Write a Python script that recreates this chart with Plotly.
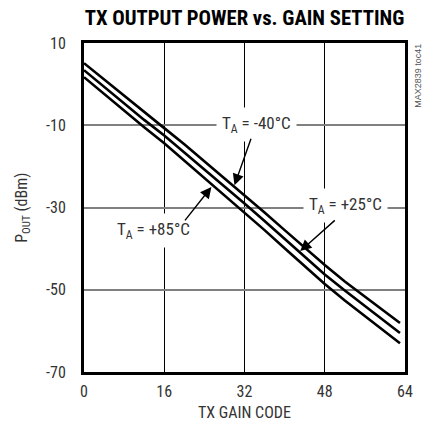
import plotly.graph_objects as go

# TX gain code sample points
gain_code = [0, 4, 8, 12, 16, 20, 24, 28, 32, 36, 40, 44, 48, 52, 56, 60, 63]

# Output power (dBm) at three ambient temperatures
pout_m40 = [5.1, 1.1, -2.8, -6.8, -10.7, -14.6, -18.7, -22.8, -26.9, -31.2, -35.5, -39.8, -44.0, -48.0, -51.6, -55.4, -58.1]
pout_p25 = [3.4, -0.7, -4.6, -8.7, -12.5, -16.6, -20.6, -24.8, -29.0, -33.3, -37.7, -42.0, -46.3, -50.2, -54.0, -57.7, -60.5]
pout_p85 = [1.7, -2.4, -6.4, -10.5, -14.4, -18.6, -22.7, -26.9, -31.1, -35.5, -39.9, -44.3, -48.6, -52.6, -56.4, -60.2, -63.0]

x_ticks = [0, 16, 32, 48, 64]
y_ticks = [10, -10, -30, -50, -70]

FONT = "Roboto Condensed, Liberation Sans Narrow, Arial Narrow, sans-serif"
TEXT_COLOR = "#333333"

fig = go.Figure()
for name, series in [("-40", pout_m40), ("+25", pout_p25), ("+85", pout_p85)]:
    fig.add_trace(go.Scatter(
        x=gain_code, y=series, mode="lines", name=name,
        line=dict(color="black", width=2.6), showlegend=False,
        hoverinfo="skip",
    ))

# Temperature labels (white boxes sit over the grid) and their pointer arrows
labels = [
    ("T<sub>A</sub> = -40°C", 34.3, -9.7),
    ("T<sub>A</sub> = +25°C", 52.1, -29.4),
    ("T<sub>A</sub> = +85°C", 13.9, -35.5),
]
for text, lx, ly in labels:
    fig.add_annotation(
        x=lx, y=ly, xref="x", yref="y", text=text, showarrow=False,
        bgcolor="white", borderpad=5,
        font=dict(family=FONT, size=17, color=TEXT_COLOR),
    )

arrows = [
    # (head x, head y, tail x, tail y)
    (30.0, -24.6, 33.4, -12.9),
    (43.1, -40.6, 50.3, -32.8),
    (25.4, -25.0, 19.9, -33.5),
]
for hx, hy, tx, ty in arrows:
    fig.add_annotation(
        x=hx, y=hy, ax=tx, ay=ty, xref="x", yref="y", axref="x", ayref="y",
        text="", showarrow=True, arrowhead=2, arrowsize=1.6, arrowwidth=1.4,
        arrowcolor="black", standoff=0, startstandoff=0,
    )

# Axis titles and side tag
fig.add_annotation(
    x=0.5, y=-0.122, xref="paper", yref="paper", text="TX GAIN CODE",
    showarrow=False, xanchor="center", yanchor="middle",
    font=dict(family=FONT, size=16, color=TEXT_COLOR),
)
fig.add_annotation(
    x=-0.192, y=0.5, xref="paper", yref="paper", text="P<sub>OUT</sub> (dBm)",
    showarrow=False, textangle=-90, xanchor="center", yanchor="middle",
    font=dict(family=FONT, size=16, color=TEXT_COLOR),
)
fig.add_annotation(
    x=1.04, y=0.90, xref="paper", yref="paper", text="MAX2839 toc41",
    showarrow=False, textangle=-90, xanchor="center", yanchor="middle",
    font=dict(family="Liberation Sans, Arial, sans-serif", size=9, color="#555555"),
)

fig.update_layout(
    width=425, height=432,
    margin=dict(l=84, r=13, t=43, b=60),
    paper_bgcolor="white", plot_bgcolor="white",
    title=dict(
        text="<b>TX OUTPUT POWER vs. GAIN SETTING</b>",
        x=0.5, xref="paper", xanchor="center",
        y=1 - 17.5 / 432, yref="container", yanchor="middle",
        font=dict(family=FONT, size=20.7, color="black"),
    ),
    xaxis=dict(
        range=[0, 64], tickvals=x_ticks, ticktext=[str(v) for v in x_ticks],
        showgrid=True, gridcolor="black", gridwidth=1,
        showline=True, linecolor="black", linewidth=3, mirror=True,
        zeroline=False, ticks="", ticklabelstandoff=3,
        tickfont=dict(family=FONT, size=16, color=TEXT_COLOR),
    ),
    yaxis=dict(
        range=[-70, 10], tickvals=y_ticks, ticktext=[str(v) for v in y_ticks],
        showgrid=True, gridcolor="#808080", gridwidth=2,
        showline=True, linecolor="black", linewidth=3, mirror=True,
        zeroline=False, ticks="", ticklabelstandoff=12,
        tickfont=dict(family=FONT, size=16, color=TEXT_COLOR),
    ),
)

fig.write_html("out.html")
